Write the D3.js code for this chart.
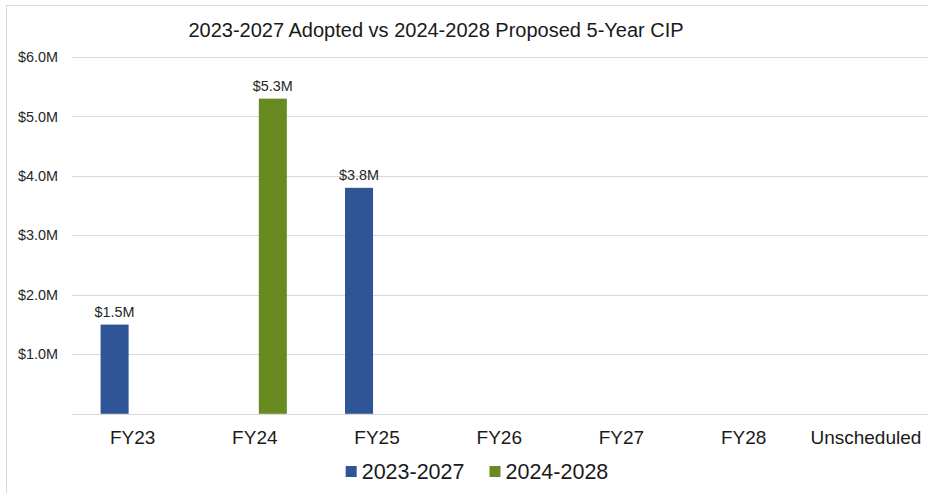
<!DOCTYPE html>
<html>
<head>
<meta charset="utf-8">
<script src="https://cdn.jsdelivr.net/npm/d3@7"></script>
<style>
  html, body { margin: 0; padding: 0; background: #fff; }
  svg { display: block; font-family: "Liberation Sans", Arial, sans-serif; }
</style>
</head>
<body>
<svg id="chart" width="928" height="493"></svg>
<script>
// Fiscal years shown on the x axis
const categories = ["FY23", "FY24", "FY25", "FY26", "FY27", "FY28", "Unscheduled"];
// Planned amounts in $ millions for each CIP
const seriesNames = ["2023-2027", "2024-2028"];
const adopted2023 = [1.5, 0, 3.8, 0, 0, 0, 0];
const proposed2024 = [0, 5.3, 0, 0, 0, 0, 0];
const yTicks = [1, 2, 3, 4, 5, 6];
const titleText = "2023-2027 Adopted vs 2024-2028 Proposed 5-Year CIP";

const colors = { "2023-2027": "#2f5597", "2024-2028": "#678a21" };
const seriesValues = { "2023-2027": adopted2023, "2024-2028": proposed2024 };

const svg = d3.select("#chart");
const W = 928, H = 493;
const plot = { left: 71.5, right: 927, top: 57, bottom: 413.8 };

// chart frame
svg.append("rect")
  .attr("x", 6.5).attr("y", 5.5)
  .attr("width", W + 10).attr("height", H + 10)
  .attr("fill", "#fff").attr("stroke", "#d9d9d9").attr("stroke-width", 1);

const x0 = d3.scaleBand().domain(categories)
  .range([plot.left, plot.right]).paddingInner(0.476).paddingOuter(0.238);
const x1 = d3.scaleBand().domain(seriesNames)
  .range([0, x0.bandwidth()]).paddingInner(0.222).paddingOuter(0);
const y = d3.scaleLinear().domain([0, 6]).range([plot.bottom, plot.top]);

// gridlines
svg.append("g")
  .selectAll("line").data([0, ...yTicks]).join("line")
  .attr("x1", plot.left).attr("x2", plot.right + 5)
  .attr("y1", d => Math.round(y(d)) + 0.5).attr("y2", d => Math.round(y(d)) + 0.5)
  .attr("stroke", "#d9d9d9").attr("stroke-width", 1);

// y tick labels
svg.append("g")
  .selectAll("text").data(yTicks).join("text")
  .attr("x", plot.left - 13.5).attr("y", d => y(d))
  .attr("dy", "0.35em").attr("text-anchor", "end")
  .attr("font-size", 14.4).attr("fill", "#262626")
  .text(d => "$" + d3.format(".1f")(d) + "M");

// x tick labels
svg.append("g")
  .selectAll("text").data(categories).join("text")
  .attr("x", d => x0(d) + x0.bandwidth() / 2).attr("y", 444)
  .attr("text-anchor", "middle").attr("font-size", 19).attr("fill", "#1a1a1a")
  .text(d => d);

// bars
const barData = [];
categories.forEach((c, i) => {
  seriesNames.forEach(s => barData.push({ cat: c, series: s, value: seriesValues[s][i] }));
});

const groups = svg.append("g");
groups.selectAll("rect").data(barData.filter(d => d.value > 0)).join("rect")
  .attr("x", d => x0(d.cat) + x1(d.series))
  .attr("width", x1.bandwidth())
  .attr("y", d => y(d.value))
  .attr("height", d => y(0) - y(d.value))
  .attr("fill", d => colors[d.series]);

// value labels
groups.selectAll("text").data(barData.filter(d => d.value > 0)).join("text")
  .attr("x", d => x0(d.cat) + x1(d.series) + x1.bandwidth() / 2)
  .attr("y", d => y(d.value) - 8)
  .attr("text-anchor", "middle").attr("font-size", 14.4).attr("fill", "#262626")
  .text(d => "$" + d3.format(".1f")(d.value) + "M");

// title
svg.append("text")
  .attr("x", 436).attr("y", 36.5)
  .attr("text-anchor", "middle").attr("font-size", 20).attr("fill", "#1a1a1a")
  .text(titleText);

// legend
const legend = svg.append("g");
const legendFont = 21.5;
const legendGap = 25;
let lx = 0;
seriesNames.forEach(s => {
  const g = legend.append("g").attr("transform", `translate(${lx},0)`);
  g.append("rect").attr("x", 0).attr("y", -5.5).attr("width", 11).attr("height", 11)
    .attr("fill", colors[s]);
  const t = g.append("text").attr("x", 16).attr("y", 0).attr("dy", "0.35em")
    .attr("font-size", legendFont).attr("fill", "#1a1a1a").text(s);
  const w = 16 + t.node().getComputedTextLength();
  lx += w + legendGap;
});
const legendWidth = lx - legendGap;
legend.attr("transform", `translate(${477 - legendWidth / 2},471.5)`);
</script>
</body>
</html>
